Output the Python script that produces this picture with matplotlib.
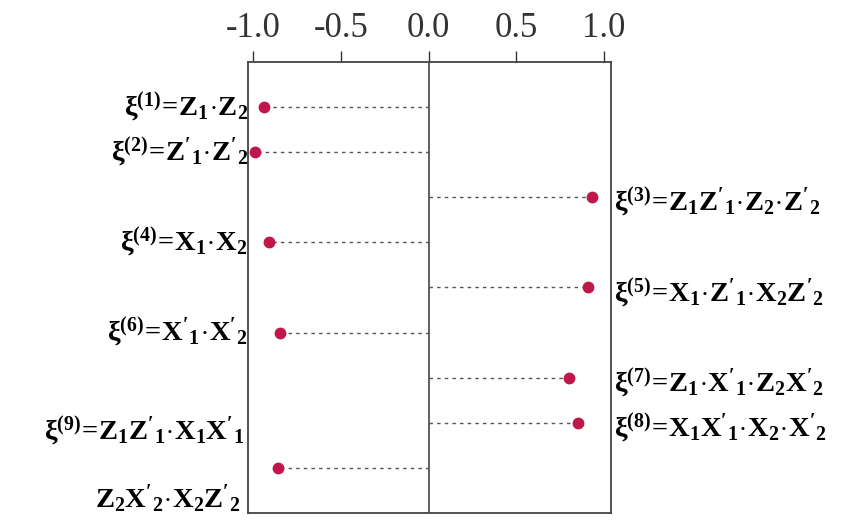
import matplotlib
matplotlib.use("Agg")
import matplotlib.pyplot as plt
import numpy as np

plt.rcParams['mathtext.fontset'] = 'custom'
plt.rcParams['mathtext.rm'] = 'Liberation Serif:bold'
plt.rcParams['mathtext.it'] = 'Liberation Serif:bold'
plt.rcParams['mathtext.bf'] = 'Liberation Serif:bold'
plt.rcParams['mathtext.default'] = 'rm'

# correlation of each stabilizer-like operator
labels = [
    r"$\xi^{(1)}\!=\!Z_1\!\cdot\! Z_2$",
    r"$\xi^{(2)}\!=\!Z'_1\!\cdot\! Z'_2$",
    r"$\xi^{(3)}\!=\!Z_1Z'_1\!\cdot\! Z_2\!\cdot\! Z'_2$",
    r"$\xi^{(4)}\!=\!X_1\!\cdot\! X_2$",
    r"$\xi^{(5)}\!=\!X_1\!\cdot\! Z'_1\!\cdot\! X_2Z'_2$",
    r"$\xi^{(6)}\!=\!X'_1\!\cdot\! X'_2$",
    r"$\xi^{(7)}\!=\!Z_1\!\cdot\! X'_1\!\cdot\! Z_2X'_2$",
    r"$\xi^{(8)}\!=\!X_1X'_1\!\cdot\! X_2\!\cdot\! X'_2$",
    [r"$\xi^{(9)}\!=\!Z_1Z'_1\!\cdot\! X_1X'_1$", r"$Z_2X'_2\!\cdot\! X_2Z'_2$"],
]
values = [-0.94, -0.99, 0.93, -0.91, 0.91, -0.85, 0.80, 0.85, -0.86]
xticks = [-1.0, -0.5, 0.0, 0.5, 1.0]

fig = plt.figure(figsize=(8.58, 5.21), dpi=100)
ax = fig.add_axes([0.289, 0.0154, 0.423, 0.866])

rows = np.arange(1, len(values) + 1)
mark = '#c0174a'
for y, v in zip(rows, values):
    ax.plot([0, v], [y, y], color='#555555', lw=1.0, ls=(0, (2.5, 3)), zorder=2)
ax.plot(values, rows, 'o', color=mark, ms=7.5, mec=mark, zorder=3)
ax.axvline(0, color='#444444', lw=1.2, zorder=1)

# operator names beside each point, on the side of its sign
fs = 20.5
for y, v, lab in zip(rows, values, labels):
    if v < 0:
        if isinstance(lab, list):
            ax.text(-1.05, y - 0.82, lab[0], ha='right', va='center', fontsize=fs)
            ax.text(-1.07, y + 0.68, lab[1], ha='right', va='center', fontsize=fs)
        else:
            ax.text(-1.03, y, lab, ha='right', va='center', fontsize=fs)
    else:
        ax.text(1.06, y + 0.12, lab, ha='left', va='center', fontsize=fs)

ax.set_xlim(-1.03, 1.04)
ax.set_ylim(10, 0)
ax.xaxis.tick_top()
ax.set_xticks(xticks)
ax.set_xticklabels([f"{t:.1f}" for t in xticks], family='Liberation Serif', fontsize=25)
ax.tick_params(axis='x', length=8, width=1, pad=4, colors='#333333')
ax.set_yticks([])
for s in ax.spines.values():
    s.set_color('#444444')
    s.set_linewidth(1.3)

fig.savefig('out.png', dpi=100, facecolor='white')
